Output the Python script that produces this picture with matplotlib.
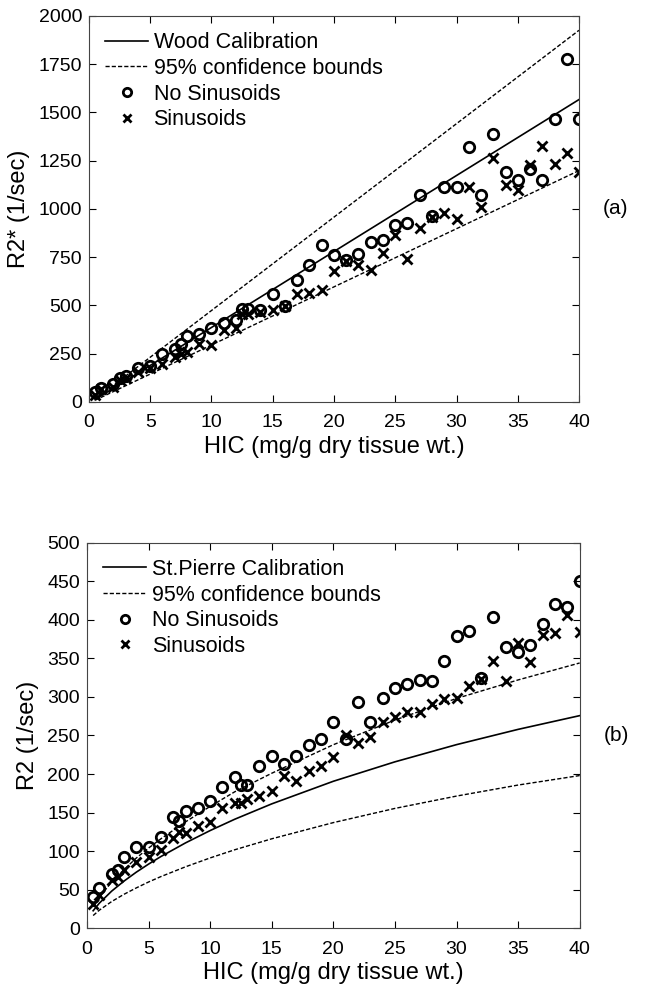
import numpy as np
import matplotlib.pyplot as plt

plt.rcParams['font.family'] = ['Liberation Sans', 'DejaVu Sans']

# HIC values shared by all measurement series
hic = [0.5, 1, 2, 2.5, 3, 4, 5, 6, 7, 7.5, 8, 9, 10, 11, 12, 12.5, 13, 14,
       15, 16, 17, 18, 19, 20, 21, 22, 23, 24, 25, 26, 27, 28, 29, 30,
       31, 32, 33, 34, 35, 36, 37, 38, 39, 40]

# (a) R2* values
r2s_nosin = [53, 74, 95, 122, 133, 177, 187, 246, 275, 302, 343, 350, 385, 407,
             426, 484, 484, 477, 562, 498, 632, 711, 811, 760, 737, 768, 828, 837,
             915, 927, 1075, 962, 1113, 1113, 1319, 1070, 1388, 1190, 1152, 1208,
             1152, 1466, 1779, 1466]
r2s_sin = [36, 66, 79, 114, 122, 157, 177, 196, 234, 251, 260, 300, 294, 375,
           381, 458, 458, 465, 475, 496, 558, 565, 579, 679, 729, 712, 686, 774,
           867, 743, 901, 958, 978, 949, 1113, 1009, 1264, 1125, 1096, 1230,
           1325, 1233, 1290, 1194]

# Wood calibration line and bounds (read at ends)
wood_hic = [0.5, 40]
wood_fit = [12, 1567]
wood_hi = [14, 1926]
wood_lo = [9, 1199]

# (b) R2 values
r2_nosin = [41, 52, 70, 76, 93, 106, 106, 118, 144, 139, 152, 156, 165, 183,
            196, 186, 186, 210, 223, 213, 223, 238, 246, 267, 245, 293, 268, 298,
            311, 317, 322, 321, 347, 379, 385, 325, 403, 365, 358, 367, 394, 421,
            416, 450]
r2_sin = [32, 43, 63, 67, 76, 86, 93, 101, 117, 125, 124, 133, 138, 156,
          162, 162, 168, 172, 178, 197, 191, 204, 211, 222, 251, 240, 248, 267,
          274, 280, 280, 291, 297, 298, 314, 323, 346, 320, 370, 345, 380, 383,
          406, 384]

# St.Pierre calibration curve and bounds
sp_hic = [0.5, 1, 2, 3, 4, 5, 6, 8, 10, 12, 15, 20, 25, 30, 35, 40]
sp_fit = [22.7, 32.5, 48.1, 61.1, 72.7, 83.2, 93.0, 110.7, 126.7, 141.4,
          161.3, 190.6, 215.8, 238.1, 257.9, 275.7]
sp_hi = [28, 40, 60, 76, 91, 104, 116, 138, 158, 177, 201, 238, 270, 298, 322, 344]
sp_lo = [16.5, 23.4, 34.6, 44, 52.3, 60, 67, 79.7, 91.2, 101.8, 116, 137,
         155.4, 171.4, 185.7, 198]


def style_axes(ax):
    ax.tick_params(direction='in', top=True, right=True, length=5,
                   labelsize=14, width=0.8)
    ax.tick_params(axis='x', pad=9)
    ax.tick_params(axis='y', pad=5)
    for s in ax.spines.values():
        s.set_linewidth(0.8)
        s.set_color('#444444')


def panel(ax, fx, fy, hx, hy, lx, ly, ys1, ys2, calib, ylabel, ymax, ystep, tag):
    ax.plot(fx, fy, color='black', lw=1.2, label=calib)
    ax.plot(hx, hy, color='black', lw=1.0, ls=(0, (3, 1.5)),
            label='95% confidence bounds')
    ax.plot(lx, ly, color='black', lw=1.0, ls=(0, (3, 1.5)))
    ax.plot(hic, ys1, ls='none', marker='o', ms=7.5, mfc='none', mec='black',
            mew=2, label='No Sinusoids')
    ax.plot(hic, ys2, ls='none', marker='x', ms=7, mec='black', mew=2,
            label='Sinusoids')
    ax.set_xlim(0, 40)
    ax.set_ylim(0, ymax)
    ax.set_xticks(np.arange(0, 41, 5))
    ax.set_yticks(np.arange(0, ymax + 1, ystep))
    ax.set_xlabel('HIC (mg/g dry tissue wt.)', fontsize=17, labelpad=3)
    ax.set_ylabel(ylabel, fontsize=17, labelpad=6)
    ax.legend(loc='upper left', frameon=False, fontsize=15.5, handlelength=2.0,
              handletextpad=0.25, labelspacing=0.22, borderaxespad=0.5,
              borderpad=0.25, markerscale=0.8)
    style_axes(ax)
    ax.text(1.049, 0.5, tag, transform=ax.transAxes, fontsize=15,
            ha='left', va='center')


fig = plt.figure(figsize=(6.64, 9.93), dpi=100)
ax1 = fig.add_axes([0.134, 0.5952, 0.738, 0.3887])
ax2 = fig.add_axes([0.131, 0.0652, 0.742, 0.3883])

panel(ax1, wood_hic, wood_fit, wood_hic, wood_hi, wood_hic, wood_lo,
      r2s_nosin, r2s_sin, 'Wood Calibration', 'R2* (1/sec)', 2000, 250, '(a)')
panel(ax2, sp_hic, sp_fit, sp_hic, sp_hi, sp_hic, sp_lo,
      r2_nosin, r2_sin, 'St.Pierre Calibration', 'R2 (1/sec)', 500, 50, '(b)')

fig.savefig('out.png', dpi=100)
plt.close(fig)
